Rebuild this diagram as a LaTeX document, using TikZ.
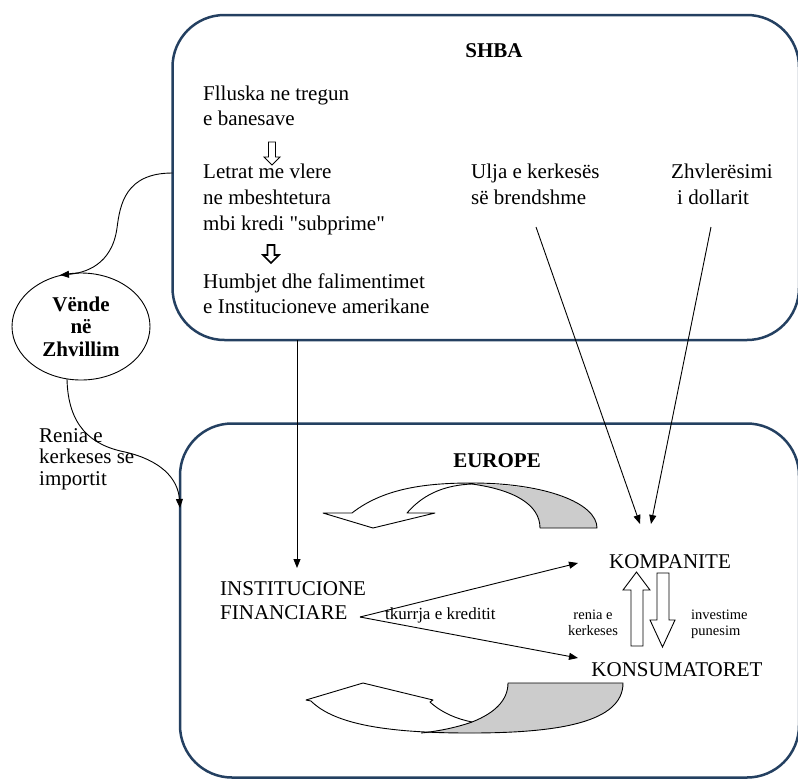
\documentclass[tikz,border=0pt]{standalone}
\usepackage{fontspec}
\setmainfont{Liberation Serif}
\newfontfamily\rawserif{Liberation Serif}
\usetikzlibrary{arrows.meta,shapes.geometric}
\definecolor{boxblue}{RGB}{36,64,97}
\definecolor{greyfill}{RGB}{204,204,204}
\newcommand\straightquote{{\rawserif"}}
\begin{document}
\begin{tikzpicture}[x=1pt,y=-1pt,
  region/.style={draw=boxblue, line width=2.5pt, rounded corners=52pt, inner sep=0pt},
  txt/.style={inner sep=0pt, font=\fontsize{21}{25.5}\selectfont},
  btxt/.style={inner sep=0pt, font=\bfseries\fontsize{21}{25.5}\selectfont},
  smalltxt/.style={inner sep=0pt, font=\fontsize{14.5}{16}\selectfont},
  conn/.style={line width=0.9pt, -{Triangle[length=9pt,width=7pt]}},
  hollow/.style={draw, line width=0.9pt, fill=white},
  curvedarrow/.style={draw, line width=0.9pt, line join=round}
]
\useasboundingbox (0,0) rectangle (798,780);

% regions
\node[region, minimum width=626.5pt, minimum height=325pt] (shba) at (485.75,177.5) {};
\node[region, minimum width=619pt, minimum height=354pt] (eu) at (489.5,600.5) {};

% titles
\node[btxt, anchor=base] (shbaT) at (494,57) {SHBA};
\node[btxt, anchor=base] (euT) at (497,467) {EUROPE};

% SHBA texts (anchored at the baseline of the last line)
\node[txt, anchor=base west, align=left, font=\fontsize{21}{25}\selectfont] (flluska) at (203,125) {Flluska ne tregun\\e banesave};
\node[txt, anchor=base west, align=left, font=\fontsize{21}{26}\selectfont] (letrat) at (203,230) {Letrat me vlere\\ne mbeshtetura\\mbi kredi \straightquote subprime\straightquote};
\node[txt, anchor=base west, align=left, font=\fontsize{21}{25}\selectfont] (humbjet) at (203,313) {Humbjet dhe falimentimet\\e Institucioneve amerikane};
\node[txt, anchor=base west, align=left, font=\fontsize{21}{26}\selectfont] (ulja) at (471,204) {Ulja e kerkesës\\së brendshme};
\node[txt, anchor=base west, align=left, font=\fontsize{21}{26}\selectfont] (zhvl) at (671,204) {Zhvlerësimi\\\hspace*{6pt}i dollarit};

% small hollow arrows in SHBA
\draw[hollow] (268.5,142) -- (275.5,142) -- (275.5,157) -- (280,157) -- (272,165) -- (264,157) -- (268.5,157) -- cycle;
\draw[hollow, line width=1.6pt] (267.5,245) -- (274.5,245) -- (274.5,255) -- (279,255) -- (271,263) -- (263,255) -- (267.5,255) -- cycle;

% developing countries
\node[draw, ellipse, line width=0.9pt, minimum width=138pt, minimum height=107pt, inner sep=0pt,
      align=center, font=\bfseries\fontsize{21}{22.5}\selectfont] (dev) at (81,326.5) {Vënde\\në\\Zhvillim};
\node[txt, anchor=base west, align=left, font=\fontsize{21}{21.5}\selectfont] (renia) at (39,485) {Renia e\\kerkeses se\\importit};

% Europe texts
\node[txt, anchor=base west, align=left, font=\fontsize{21}{24}\selectfont] (inst) at (220,619) {INSTITUCIONE\\FINANCIARE};
\node[inner sep=0pt, anchor=base west, font=\fontsize{17}{18}\selectfont] (tkurr) at (385,619) {tkurrja e kreditit};
\node[txt, anchor=base] (komp) at (670,568) {KOMPANITE};
\node[txt, anchor=base] (kons) at (677,676) {KONSUMATORET};
\node[smalltxt, anchor=base, align=center] (reniaK) at (593,635) {renia e\\kerkeses};
\node[smalltxt, anchor=base west, align=left] (invest) at (691,635) {investime\\punesim};

% hollow arrows between companies and consumers
\draw[hollow] (631,646) -- (631,590) -- (623,590) -- (636.5,572) -- (650,590) -- (643,590) -- (643,646) -- cycle;
\draw[hollow] (657,573) -- (669,573) -- (669,620) -- (675,620) -- (662.5,647) -- (650,620) -- (657,620) -- cycle;

% curved arrow (top)
\fill[greyfill] (472,484) .. controls (545,484) and (597,503) .. (597,528) -- (540,528) .. controls (540,505) and (515,490) .. (472,484) -- cycle;
\draw[curvedarrow] (352,513) -- (323,513) -- (373,528) -- (435,513) -- (407,513)
  .. controls (425,492) and (448,485) .. (472,484)
  .. controls (515,490) and (540,505) .. (540,528) -- (597,528)
  .. controls (597,503) and (545,483) .. (472,483)
  .. controls (430,483) and (385,487) .. (352,513) -- cycle;

% curved arrow (bottom)
\fill[greyfill] (421,733) .. controls (440,731) and (458,727) .. (472,722) .. controls (495,713) and (508,700) .. (508,683) -- (623,683) .. controls (623,722) and (560,733) .. (470,733) -- cycle;
\draw[curvedarrow] (311,701) -- (306,700) -- (363,683) -- (433,700) -- (430,702)
  .. controls (442,713) and (457,719) .. (472,722)
  .. controls (495,713) and (508,700) .. (508,683) -- (623,683)
  .. controls (623,722) and (560,733) .. (470,733)
  .. controls (390,733) and (335,725) .. (311,701) -- cycle;
\draw[curvedarrow] (421,733) .. controls (440,731) and (458,727) .. (472,722);

% connector end points
\coordinate (shbaOut) at (172.5,173);
\coordinate (devIn) at (60,275);
\coordinate (devOut) at (67,379);
\coordinate (euIn) at (180,508);
\coordinate (lossOut) at (297,340);
\coordinate (instIn) at (297,568);
\coordinate (uljaOut) at (536,227);
\coordinate (zhvlOut) at (711,227);
\coordinate (kompInA) at (640,524);
\coordinate (kompInB) at (651,524);
\coordinate (finOut) at (360,617);
\coordinate (kompIn) at (578,563);
\coordinate (konsIn) at (578,658);

% connectors
\draw[conn] (shbaOut) .. controls (125,173) and (120,205) .. (117,228) .. controls (112,265) and (85,273) .. (devIn);
\draw[conn] (devOut) .. controls (68,425) and (90,445) .. (125,452) .. controls (160,460) and (178,478) .. (euIn);
\draw[conn] (lossOut) -- (instIn);
\draw[conn] (uljaOut) -- (kompInA);
\draw[conn] (zhvlOut) -- (kompInB);
\draw[conn] (finOut) -- (kompIn);
\draw[conn] (finOut) -- (konsIn);
\end{tikzpicture}
\end{document}
